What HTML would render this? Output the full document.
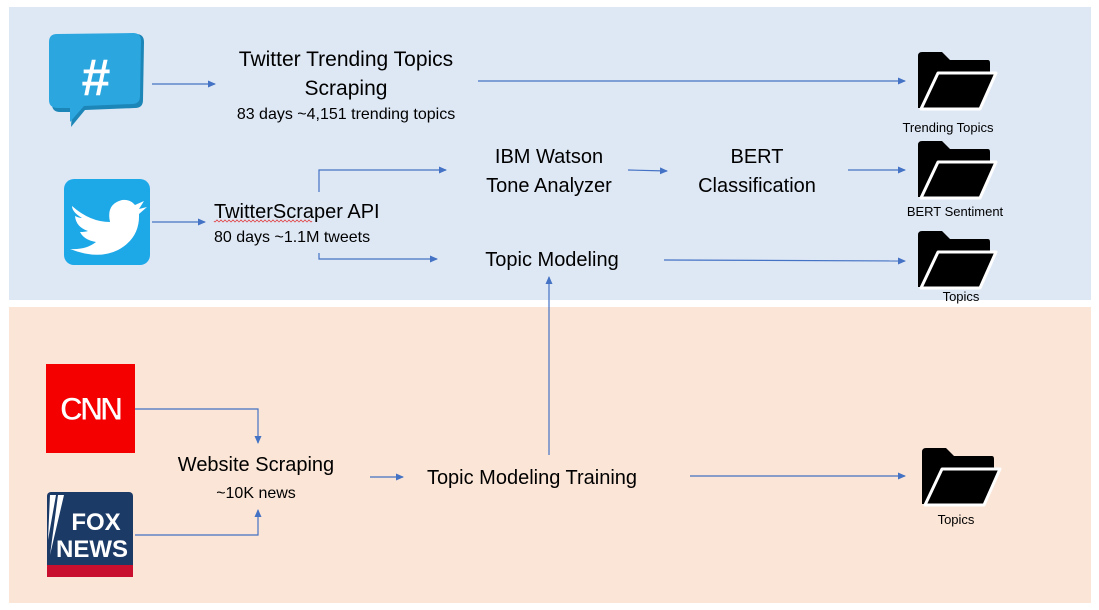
<!DOCTYPE html>
<html><head><meta charset="utf-8"><style>
html,body{margin:0;padding:0;background:#fff;}
svg{display:block;font-family:"Liberation Sans",sans-serif;}
</style></head><body>
<svg width="1099" height="610" viewBox="0 0 1099 610" xmlns="http://www.w3.org/2000/svg">
<defs>
<marker id="a" markerWidth="8" markerHeight="8" refX="7" refY="4" orient="auto" markerUnits="userSpaceOnUse">
<path d="M0,0.5 L8,4 L0,7.5 Z" fill="#4472c4"/></marker>
<g id="fold">
<path d="M0,4 Q0,0 4,0 L24,0 L32,8 L70,8 Q72,8 72,11 L72,20 L20,20 L2,56 L0,56 Z" fill="#000"/>
<path d="M20,21 L78,21 L62,57 L3,57 Z" fill="#000" stroke="#fff" stroke-width="3" stroke-linejoin="round"/>
</g>
</defs>
<rect x="9" y="7" width="1082" height="293" fill="#dee8f5"/>
<rect x="9" y="307" width="1082" height="296" fill="#fbe5d6"/>

<!-- hashtag bubble -->
<path d="M52,44 Q52,36 60,36 L136,34 Q144,34 144,42 L143,100 Q143,108 135,108 L85,110 L71,127 L72,112 L60,112 Q52,112 52,104 Z" fill="#1c86b8"/>
<path d="M49,42 Q49,34 57,34 L133,33 Q141,33 141,41 L140,96 Q140,104 132,104 L84,106 L70,122 L70,108 L58,108 Q49,108 49,100 Z" fill="#2ba6df"/>
<text x="96" y="95" font-size="52" font-weight="bold" fill="#fff" text-anchor="middle">#</text>

<!-- twitter -->
<rect x="64" y="179" width="86" height="86" rx="10" fill="#1da8e8"/>
<path d="M72,206 Q90,222 110,222 Q106,204 122,200 Q130,199 135,205 L144,201 L139,209 L147,207 L139,214 Q140,238 118,250 Q98,260 70,249 Q86,250 96,242 Q84,240 80,232 Q85,232 88,231 Q76,227 75,216 Q79,218 82,218 Q72,212 72,206 Z" fill="#fff"/>

<!-- CNN -->
<rect x="46" y="364" width="89" height="89" fill="#f40000"/>
<text x="90" y="420" font-size="32" font-weight="bold" fill="#fff" stroke="#f40000" stroke-width="1" text-anchor="middle" letter-spacing="-3">CNN</text>
<!-- FOX -->
<rect x="47" y="492" width="86" height="85" rx="4" fill="#1b3a66"/>
<rect x="47" y="565" width="86" height="12" fill="#c8102e"/>
<path d="M50,495 L56,495 L48,540 Z M58,495 L64,495 L50,555 Z" fill="#fff"/>
<text x="96" y="530" font-size="24" font-weight="bold" fill="#fff" text-anchor="middle">FOX</text>
<text x="92" y="557" font-size="24" font-weight="bold" fill="#fff" text-anchor="middle">NEWS</text>

<!-- texts -->
<g fill="#000" text-anchor="middle">
<text x="346" y="66" font-size="21">Twitter Trending Topics</text>
<text x="346" y="95" font-size="21">Scraping</text>
<text x="346" y="119" font-size="16">83 days ~4,151 trending topics</text>
<text x="549" y="163" font-size="20">IBM Watson</text>
<text x="549" y="192" font-size="20">Tone Analyzer</text>
<text x="757" y="163" font-size="20">BERT</text>
<text x="757" y="192" font-size="20">Classification</text>
<text x="552" y="266" font-size="20">Topic Modeling</text>
<text x="256" y="471" font-size="20">Website Scraping</text>
<text x="256" y="498" font-size="16">~10K news</text>
<text x="532" y="484" font-size="20">Topic Modeling Training</text>
<text x="948" y="132" font-size="13">Trending Topics</text>
<text x="955" y="216" font-size="13">BERT Sentiment</text>
<text x="961" y="301" font-size="13">Topics</text>
<text x="956" y="524" font-size="13">Topics</text>
</g>
<text x="214" y="218" font-size="20">TwitterScraper API</text>
<path d="M214,221 q1,2 2,0 t2,0 t2,0 t2,0 t2,0 t2,0 t2,0 t2,0 t2,0 t2,0 t2,0 t2,0 t2,0 t2,0 t2,0 t2,0 t2,0 t2,0 t2,0 t2,0 t2,0 t2,0 t2,0 t2,0 t2,0 t2,0 t2,0 t2,0 t2,0 t2,0 t2,0 t2,0 t2,0 t2,0 t2,0 t2,0 t2,0 t2,0 t2,0 t2,0 t2,0 t2,0 t2,0 t2,0 t2,0 t2,0 t2,0 t2,0 t2,0" fill="none" stroke="#e03030" stroke-width="0.8"/>
<text x="214" y="242" font-size="16">80 days ~1.1M tweets</text>

<!-- connectors -->
<g stroke="#4472c4" stroke-width="1.2" fill="none" marker-end="url(#a)">
<path d="M152,84 L215,84"/>
<path d="M478,81 L905,81"/>
<path d="M152,222 L205,222"/>
<path d="M319,192 L319,170 L446,170"/>
<path d="M319,253 L319,259 L437,259"/>
<path d="M628,170 L667,171"/>
<path d="M848,170 L905,170"/>
<path d="M664,260 L905,261"/>
<path d="M549,455 L549,277"/>
<path d="M135,409 L258,409 L258,443"/>
<path d="M135,535 L258,535 L258,510"/>
<path d="M370,477 L403,477"/>
<path d="M690,476 L905,476"/>
</g>

<use href="#fold" x="918" y="52"/>
<use href="#fold" x="918" y="141"/>
<use href="#fold" x="918" y="231"/>
<use href="#fold" x="922" y="448"/>
</svg>
</body></html>
